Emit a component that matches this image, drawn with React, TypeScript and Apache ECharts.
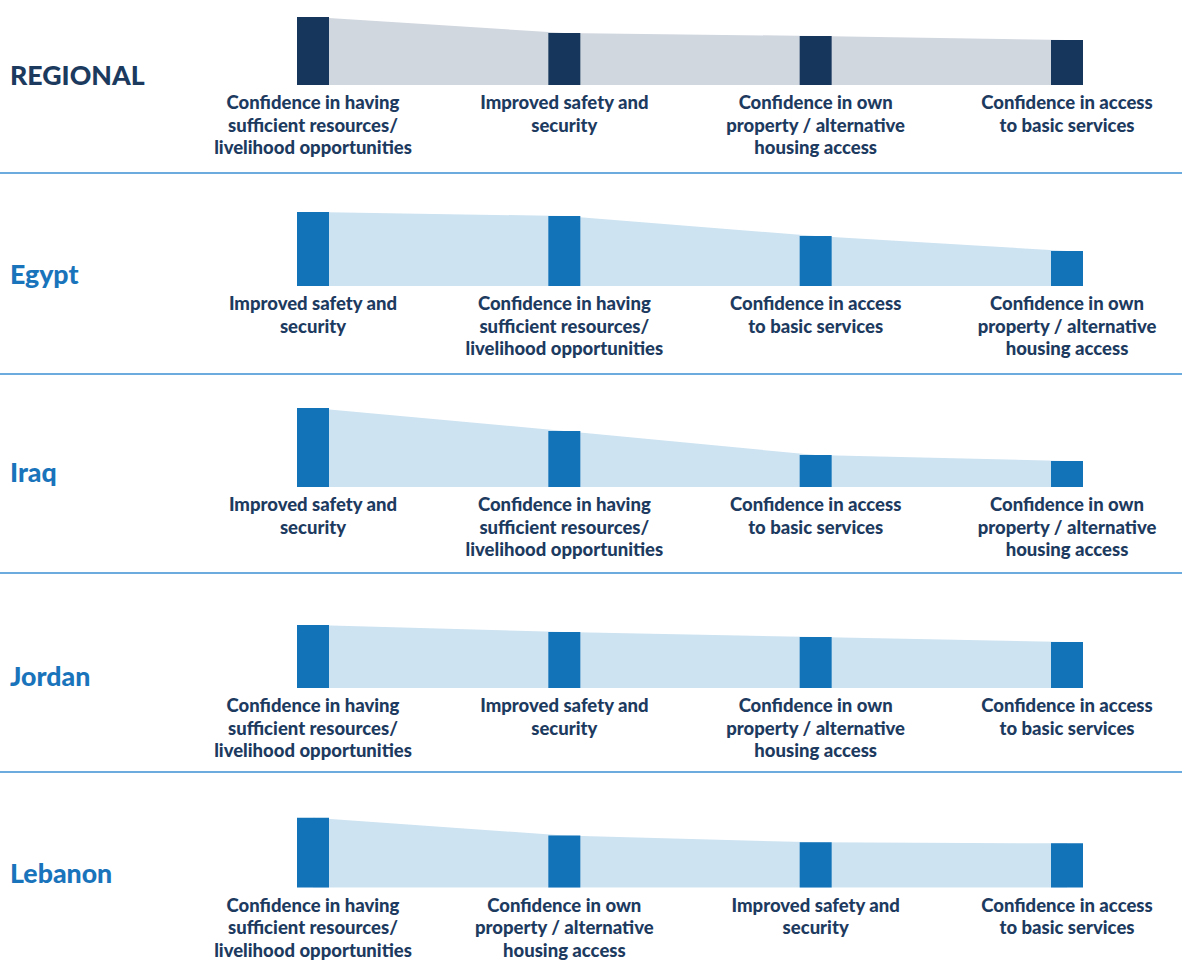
import React, { useEffect, useRef } from "react";
import * as echarts from "echarts";

const LBL_RES = "Confidence in having\nsufficient resources/\nlivelihood opportunities";
const LBL_SAFE = "Improved safety and\nsecurity";
const LBL_PROP = "Confidence in own\nproperty / alternative\nhousing access";
const LBL_SERV = "Confidence in access\nto basic services";

const panelNames = ["REGIONAL", "Egypt", "Iraq", "Jordan", "Lebanon"];

const regionalCategories = [LBL_RES, LBL_SAFE, LBL_PROP, LBL_SERV];
const regionalValues = [68, 52, 49, 45];

const egyptCategories = [LBL_SAFE, LBL_RES, LBL_SERV, LBL_PROP];
const egyptValues = [74, 70, 50, 35];

const iraqCategories = [LBL_SAFE, LBL_RES, LBL_SERV, LBL_PROP];
const iraqValues = [79, 56, 32, 26];

const jordanCategories = [LBL_RES, LBL_SAFE, LBL_PROP, LBL_SERV];
const jordanValues = [63, 56, 51, 46];

const lebanonCategories = [LBL_RES, LBL_PROP, LBL_SAFE, LBL_SERV];
const lebanonValues = [71, 53, 46, 45];

const panelCategories = [regionalCategories, egyptCategories, iraqCategories, jordanCategories, lebanonCategories];
const panelValues = [regionalValues, egyptValues, iraqValues, jordanValues, lebanonValues];

// layout (pixels)
const baselines = [85, 286, 487, 688, 889];
const titleY = [75, 274, 472, 676, 873];
const separatorsY = [173, 374, 573, 772];
const GRID_H = 80;
const Y_MAX = 80;

const FONT = "Lato, 'Noto Sans', sans-serif";

export default function App() {
  const ref = useRef<HTMLDivElement>(null);

  useEffect(() => {
    if (!ref.current) return;
    const chart = echarts.init(ref.current, null, { renderer: "svg" });

    const grids: any[] = [];
    const xAxes: any[] = [];
    const yAxes: any[] = [];
    const series: any[] = [];
    const graphics: any[] = [];

    panelNames.forEach((name, i) => {
      const regional = i === 0;
      const barColor = regional ? "#17365c" : "#1373b9";
      const areaColor = regional ? "#d1d7df" : "#cde3f1";
      grids.push({ left: 313, right: 115, top: baselines[i] - GRID_H, height: GRID_H });
      xAxes.push({
        type: "category",
        gridIndex: i,
        data: panelCategories[i],
        boundaryGap: false,
        axisLine: { show: false },
        axisTick: { show: false },
        splitLine: { show: false },
        axisLabel: {
          interval: 0,
          margin: 6,
          color: "#1d3a5f",
          fontFamily: FONT,
          fontWeight: 900,
          fontSize: 18.5,
          lineHeight: 22.5,
          align: "center",
        },
      });
      yAxes.push({
        type: "value",
        gridIndex: i,
        min: 0,
        max: Y_MAX,
        show: false,
        splitLine: { show: false },
      });
      series.push({
        type: "line",
        xAxisIndex: i,
        yAxisIndex: i,
        data: panelValues[i],
        symbol: "none",
        lineStyle: { width: 0, color: areaColor },
        areaStyle: { color: areaColor, opacity: 1 },
        clip: false,
        silent: true,
        z: 1,
      });
      series.push({
        type: "bar",
        xAxisIndex: i,
        yAxisIndex: i,
        data: panelValues[i],
        barWidth: 32,
        itemStyle: { color: barColor },
        clip: false,
        silent: true,
        z: 3,
      });
      graphics.push({
        type: "text",
        x: 10,
        y: titleY[i],
        style: {
          text: name,
          fill: regional ? "#1b3a5e" : "#1a74bb",
          font: `900 26.7px ${FONT}`,
          verticalAlign: "middle",
        },
      });
    });

    separatorsY.forEach((y) => {
      graphics.push({
        type: "line",
        shape: { x1: 0, y1: y, x2: 1182, y2: y },
        style: { stroke: "#3a8fd3", lineWidth: 1.5 },
      });
    });

    chart.setOption({
      animation: false,
      backgroundColor: "#ffffff",
      grid: grids,
      xAxis: xAxes,
      yAxis: yAxes,
      series,
      graphic: graphics,
    });

    return () => chart.dispose();
  }, []);

  return (
    <div
      ref={ref}
      style={{ position: "absolute", left: 0, top: 0, width: 1182, height: 961 }}
    />
  );
}
